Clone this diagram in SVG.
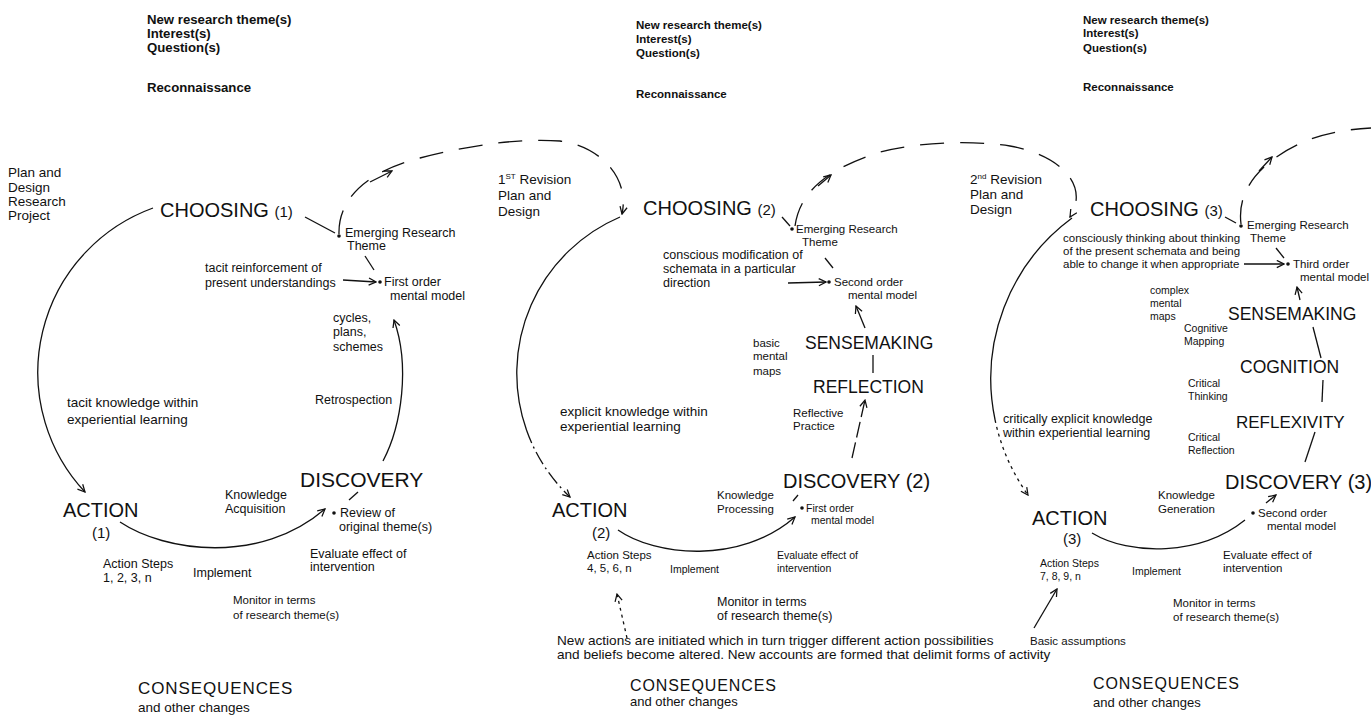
<svg xmlns="http://www.w3.org/2000/svg" width="1371" height="715" viewBox="0 0 1371 715">
<style>
text{font-family:"Liberation Sans",Arial,sans-serif;fill:#111}
.h1{font-size:13.2px;font-weight:bold}
.h{font-size:11.5px;font-weight:bold}
.a{font-size:12.5px}
.b{font-size:11.5px}
.c{font-size:10.5px}
.k{font-size:13.5px}
.rv{font-size:13.5px}
.L{font-size:20px}
.M{font-size:17.5px}
.C{font-size:16px;letter-spacing:0.9px}
.p{font-size:15px}
.sup{font-size:8px}
.ln{fill:none;stroke:#111;stroke-width:1.3}
.dash{stroke-dasharray:24 16}
.dot{stroke-dasharray:3 4}
.ld{stroke-dasharray:16 5}
.dd{stroke-dasharray:14 4 2 4}
</style>
<defs>
<marker id="ah" viewBox="0 0 10 10" refX="9" refY="5" markerWidth="9" markerHeight="9" markerUnits="userSpaceOnUse" orient="auto">
<path d="M1,1 L9,5 L1,9" fill="none" stroke="#111" stroke-width="1.4"/>
</marker>
</defs>
<rect width="1371" height="715" fill="#fff"/>

<!-- ===== Cycle 1 ===== -->
<g id="c1-top">
<text class="h1" x="147" y="24">New research theme(s)</text>
<text class="h1" x="147" y="38">Interest(s)</text>
<text class="h1" x="147" y="52">Question(s)</text>
<text class="h1" x="147" y="92">Reconnaissance</text>
</g>
<g id="c1-plan">
<text class="rv" x="8" y="177">Plan and</text>
<text class="rv" x="8" y="192">Design</text>
<text class="rv" x="8" y="206">Research</text>
<text class="rv" x="8" y="220">Project</text>
</g>
<g id="c1-choosing"><text class="L" x="160" y="217">CHOOSING <tspan class="p">(1)</tspan></text></g>
<g id="c1-emerging">
<circle cx="339" cy="236" r="1.8" fill="#111"/>
<text class="a" x="345" y="237">Emerging Research</text>
<text class="a" x="347" y="250">Theme</text>
</g>
<g id="c1-tacit-reinf">
<text class="a" x="205" y="272">tacit reinforcement of</text>
<text class="a" x="205" y="287">present understandings</text>
</g>
<g id="c1-first">
<circle cx="380" cy="282" r="1.8" fill="#111"/>
<text class="a" x="384" y="286">First order</text>
<text class="a" x="390" y="300">mental model</text>
</g>
<g id="c1-cycles">
<text class="a" x="333" y="322">cycles,</text>
<text class="a" x="333" y="336">plans,</text>
<text class="a" x="333" y="351">schemes</text>
</g>
<g id="c1-retro"><text class="a" x="315" y="404">Retrospection</text></g>
<g id="c1-tacit">
<text class="k" x="67" y="407">tacit knowledge within</text>
<text class="k" x="67" y="424">experiential learning</text>
</g>
<g id="c1-action">
<text class="L" x="63" y="517">ACTION</text>
<text class="p" x="92" y="538">(1)</text>
</g>
<g id="c1-knowledge">
<text class="a" x="225" y="499">Knowledge</text>
<text class="a" x="225" y="513">Acquisition</text>
</g>
<g id="c1-discovery"><text class="L" x="300" y="487" style="font-size:21px">DISCOVERY</text></g>
<g id="c1-review">
<circle cx="334" cy="513" r="1.8" fill="#111"/>
<text class="a" x="340" y="517">Review of</text>
<text class="a" x="339" y="531">original theme(s)</text>
</g>
<g id="c1-evaluate">
<text class="a" x="310" y="558">Evaluate effect of</text>
<text class="a" x="310" y="571">intervention</text>
</g>
<g id="c1-steps">
<text class="a" x="103" y="568">Action Steps</text>
<text class="a" x="103" y="582">1, 2, 3, n</text>
</g>
<g id="c1-implement"><text class="a" x="193" y="577">Implement</text></g>
<g id="c1-monitor">
<text class="b" x="233" y="604">Monitor in terms</text>
<text class="b" x="233" y="619">of research theme(s)</text>
</g>
<g id="c1-consequences">
<text class="C" x="138" y="694" style="font-size:17px">CONSEQUENCES</text>
<text class="k" x="138" y="712">and other changes</text>
</g>

<!-- ===== Cycle 2 ===== -->
<g id="c2-top">
<text class="h" x="636" y="29">New research theme(s)</text>
<text class="h" x="636" y="43">Interest(s)</text>
<text class="h" x="636" y="57">Question(s)</text>
<text class="h" x="636" y="98">Reconnaissance</text>
</g>
<g id="c2-revision">
<text class="rv" x="498" y="184">1<tspan class="sup" dy="-5">ST</tspan><tspan dy="5"> Revision</tspan></text>
<text class="rv" x="498" y="200">Plan and</text>
<text class="rv" x="498" y="216">Design</text>
</g>
<g id="c2-choosing"><text class="L" x="643" y="215">CHOOSING <tspan class="p">(2)</tspan></text></g>
<g id="c2-emerging">
<circle cx="792" cy="229" r="1.8" fill="#111"/>
<text class="b" x="796" y="233">Emerging Research</text>
<text class="b" x="802" y="246">Theme</text>
</g>
<g id="c2-conscious">
<text class="a" x="663" y="259">conscious modification of</text>
<text class="a" x="663" y="273">schemata in a particular</text>
<text class="a" x="663" y="287">direction</text>
</g>
<g id="c2-second">
<circle cx="829" cy="282" r="1.8" fill="#111"/>
<text class="b" x="834" y="286">Second order</text>
<text class="b" x="848" y="299">mental model</text>
</g>
<g id="c2-sense"><text class="M" x="805" y="349">SENSEMAKING</text></g>
<g id="c2-basic">
<text class="b" x="753" y="347">basic</text>
<text class="b" x="753" y="360">mental</text>
<text class="b" x="753" y="375">maps</text>
</g>
<g id="c2-reflection"><text class="M" x="813" y="393">REFLECTION</text></g>
<g id="c2-reflective">
<text class="b" x="793" y="417">Reflective</text>
<text class="b" x="793" y="430">Practice</text>
</g>
<g id="c2-explicit">
<text class="k" x="560" y="416">explicit knowledge within</text>
<text class="k" x="560" y="431">experiential learning</text>
</g>
<g id="c2-discovery"><text class="L" x="783" y="488">DISCOVERY (2)</text></g>
<g id="c2-first">
<circle cx="802" cy="508" r="1.8" fill="#111"/>
<text class="c" x="806" y="512">First order</text>
<text class="c" x="811" y="524">mental model</text>
</g>
<g id="c2-knowledge">
<text class="b" x="717" y="499">Knowledge</text>
<text class="b" x="717" y="513">Processing</text>
</g>
<g id="c2-action">
<text class="L" x="552" y="517">ACTION</text>
<text class="p" x="592" y="538">(2)</text>
</g>
<g id="c2-steps">
<text class="b" x="587" y="559">Action Steps</text>
<text class="b" x="587" y="572">4, 5, 6, n</text>
</g>
<g id="c2-implement"><text class="c" x="670" y="573">Implement</text></g>
<g id="c2-evaluate">
<text class="c" x="777" y="559">Evaluate effect of</text>
<text class="c" x="777" y="572">intervention</text>
</g>
<g id="c2-monitor">
<text class="a" x="717" y="606">Monitor in terms</text>
<text class="a" x="717" y="620">of research theme(s)</text>
</g>
<g id="c2-newactions">
<text style="font-size:13.6px" x="557" y="645">New actions are initiated which in turn trigger different action possibilities</text>
<text style="font-size:13.6px" x="557" y="659">and beliefs become altered.  New accounts are formed that delimit forms of activity</text>
</g>
<g id="c2-consequences">
<text class="C" x="630" y="691">CONSEQUENCES</text>
<text style="font-size:13px" x="630" y="706">and other changes</text>
</g>

<!-- ===== Cycle 3 ===== -->
<g id="c3-top">
<text class="h" x="1083" y="24">New research theme(s)</text>
<text class="h" x="1083" y="37">Interest(s)</text>
<text class="h" x="1083" y="52">Question(s)</text>
<text class="h" x="1083" y="91">Reconnaissance</text>
</g>
<g id="c3-revision">
<text class="rv" x="970" y="184">2<tspan class="sup" dy="-5">nd</tspan><tspan dy="5"> Revision</tspan></text>
<text class="rv" x="970" y="199">Plan and</text>
<text class="rv" x="970" y="214">Design</text>
</g>
<g id="c3-choosing"><text class="L" x="1090" y="216">CHOOSING <tspan class="p">(3)</tspan></text></g>
<g id="c3-emerging">
<circle cx="1241" cy="226" r="1.8" fill="#111"/>
<text class="b" x="1247" y="229">Emerging Research</text>
<text class="b" x="1250" y="242">Theme</text>
</g>
<g id="c3-conscious">
<text class="b" x="1063" y="242">consciously thinking about thinking</text>
<text class="b" x="1063" y="255">of the present schemata and being</text>
<text class="b" x="1063" y="268">able to change it when appropriate</text>
</g>
<g id="c3-third">
<circle cx="1288" cy="264" r="1.8" fill="#111"/>
<text class="b" x="1293" y="268">Third order</text>
<text class="b" x="1300" y="281">mental model</text>
</g>
<g id="c3-complex">
<text class="c" x="1150" y="294">complex</text>
<text class="c" x="1150" y="307">mental</text>
<text class="c" x="1150" y="320">maps</text>
</g>
<g id="c3-sense"><text class="M" x="1228" y="320">SENSEMAKING</text></g>
<g id="c3-cogmap">
<text class="c" x="1184" y="332">Cognitive</text>
<text class="c" x="1184" y="345">Mapping</text>
</g>
<g id="c3-cognition"><text class="M" x="1240" y="373">COGNITION</text></g>
<g id="c3-critthink">
<text class="c" x="1188" y="387">Critical</text>
<text class="c" x="1188" y="400">Thinking</text>
</g>
<g id="c3-reflexivity"><text class="M" x="1236" y="428" style="font-size:17px">REFLEXIVITY</text></g>
<g id="c3-critrefl">
<text class="c" x="1188" y="441">Critical</text>
<text class="c" x="1188" y="454">Reflection</text>
</g>
<g id="c3-critically">
<text class="a" x="1003" y="423">critically explicit knowledge</text>
<text class="a" x="1003" y="437">within experiential learning</text>
</g>
<g id="c3-discovery"><text class="L" x="1225" y="489">DISCOVERY (3)</text></g>
<g id="c3-knowledge">
<text class="b" x="1158" y="499">Knowledge</text>
<text class="b" x="1158" y="513">Generation</text>
</g>
<g id="c3-second">
<circle cx="1253" cy="513" r="1.8" fill="#111"/>
<text class="b" x="1258" y="517">Second order</text>
<text class="b" x="1267" y="530">mental model</text>
</g>
<g id="c3-action">
<text class="L" x="1032" y="525">ACTION</text>
<text class="p" x="1063" y="544">(3)</text>
</g>
<g id="c3-steps">
<text class="c" x="1040" y="567">Action Steps</text>
<text class="c" x="1040" y="580">7, 8, 9, n</text>
</g>
<g id="c3-implement"><text class="c" x="1132" y="575">Implement</text></g>
<g id="c3-evaluate">
<text class="b" x="1223" y="559">Evaluate effect of</text>
<text class="b" x="1223" y="572">intervention</text>
</g>
<g id="c3-monitor">
<text class="b" x="1173" y="607">Monitor in terms</text>
<text class="b" x="1173" y="621">of research theme(s)</text>
</g>
<g id="c3-basic"><text class="b" x="1030" y="645">Basic assumptions</text></g>
<g id="c3-consequences">
<text class="C" x="1093" y="689">CONSEQUENCES</text>
<text style="font-size:13px" x="1093" y="707">and other changes</text>
</g>

<!-- ===== Connectors ===== -->
<g id="connectors">
<!-- cycle 1 -->
<path class="ln" d="M153,208 A175,175 0 0 0 85,492" marker-end="url(#ah)"/>
<path class="ln" d="M120,522 C165,552 260,565 325,509" marker-end="url(#ah)"/>
<path class="ln" d="M383,461 C402,425 410,365 394,320" marker-end="url(#ah)"/>
<path class="ln" d="M358,492 L349,500"/>
<path class="ln" d="M305,217 L335,233"/>
<path class="ln" d="M365,256 L374,270"/>
<path class="ln" d="M343,280 L376,282" marker-end="url(#ah)"/>
<path class="ln dash" d="M339,234 C338,200 365,172 420,158 C470,145 520,138 560,141 C600,146 630,178 622,214" marker-end="url(#ah)"/>
<path class="ln" d="M370,182 L392,171" marker-end="url(#ah)"/>
<!-- cycle 2 -->
<path class="ln" d="M620,217 A170,170 0 0 0 526.5,430"/>
<path class="ln dd" d="M526.5,430 A170,170 0 0 0 570,497" marker-end="url(#ah)"/>
<path class="ln" d="M618,530 C655,556 740,565 795,517" marker-end="url(#ah)"/>
<path class="ln" d="M798,495 L793,501"/>
<path class="ln" d="M782,217 L790,226"/>
<path class="ln" d="M825,258 L833,268"/>
<path class="ln" d="M788,283 L826,282" marker-end="url(#ah)"/>
<path class="ln" d="M865,328 L856,306" marker-end="url(#ah)"/>
<path class="ln" d="M873,355 L873,373"/>
<path class="ln ld" d="M852,458 L865,400" marker-end="url(#ah)"/>
<path class="ln dot" d="M627,638 L617,594" marker-end="url(#ah)"/>
<path class="ln dash" d="M795,226 C800,190 830,168 880,152 C920,142 970,140 1010,146 C1060,155 1090,185 1070,217" marker-end="url(#ah)"/>
<path class="ln" d="M818,186 L831,175" marker-end="url(#ah)"/>
<!-- cycle 3 -->
<path class="ln" d="M1072,218 A200,200 0 0 0 995.1,420"/>
<path class="ln dot" d="M995.1,420 A200,200 0 0 0 1028,495" marker-end="url(#ah)"/>
<path class="ln" d="M1092,533 C1130,556 1200,556 1245,520"/>
<path class="ln" d="M1266,503 L1276,495" marker-end="url(#ah)"/>
<path class="ln" d="M1225,217 L1236,223"/>
<path class="ln" d="M1276,248 L1284,258"/>
<path class="ln" d="M1244,264 L1284,264" marker-end="url(#ah)"/>
<path class="ln" d="M1300,300 L1297,287" marker-end="url(#ah)"/>
<path class="ln" d="M1313,327 L1321,358"/>
<path class="ln" d="M1323,380 L1322,402"/>
<path class="ln" d="M1315,432 L1305,462"/>
<path class="ln" d="M1034,628 L1057,589" marker-end="url(#ah)"/>
<path class="ln dash" d="M1241,224 C1238,200 1248,178 1275,158 C1300,140 1330,130 1371,128"/>
<path class="ln" d="M1259,171 L1272,157" marker-end="url(#ah)"/>
</g>
</svg>
